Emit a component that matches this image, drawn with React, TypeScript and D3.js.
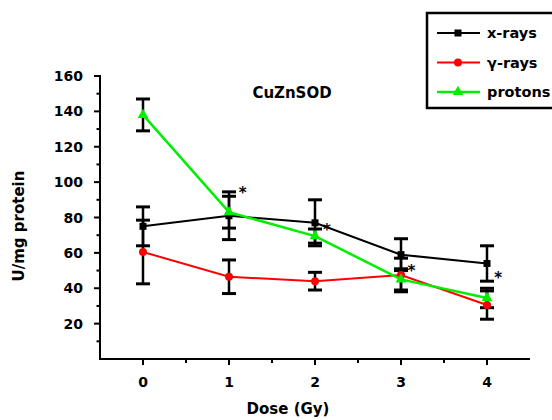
import React from 'react';
import * as d3 from 'd3';

const doses = [0, 1, 2, 3, 4];
const xRays = [75, 81, 77, 59, 54];
const xRaysErr = [11, 13.5, 13, 9, 10];
const gammaRays = [60.5, 46.5, 44, 47.5, 30.5];
const gammaErr = [18, 9.5, 5, 9.5, 8];
const protons = [138, 83, 69.5, 45, 34.5];
const protonsErr = [9, 9, 4, 6, 5.5];
const yTicks = [20, 40, 60, 80, 100, 120, 140, 160];
const yMinor = [10, 30, 50, 70, 90, 110, 130, 150];
const xMinor = [0.5, 1.5, 2.5, 3.5];
// significance marks next to the x-ray points
const starX = [1.16, 2.14, 3.12, 4.13];
const starY = [95.5, 74.5, 51.5, 47.5];

const FONT = '"DejaVu Sans", sans-serif';

const W = 552;
const H = 420;

const x = d3.scaleLinear().domain([-0.5, 4.5]).range([100, 530]);
const y = d3.scaleLinear().domain([0, 160]).range([359, 76]);

type Series = {
  name: string;
  values: number[];
  errs: number[];
  color: string;
  marker: 'square' | 'circle' | 'triangle';
  width: number;
};

const series: Series[] = [
  { name: 'x-rays', values: xRays, errs: xRaysErr, color: '#000000', marker: 'square', width: 2 },
  { name: 'γ-rays', values: gammaRays, errs: gammaErr, color: '#ff0000', marker: 'circle', width: 2 },
  { name: 'protons', values: protons, errs: protonsErr, color: '#00ee00', marker: 'triangle', width: 2.5 },
];

const Marker = ({ kind, cx, cy, color }: { kind: string; cx: number; cy: number; color: string }) => {
  if (kind === 'square') return <rect x={cx - 3.5} y={cy - 3.5} width={7} height={7} fill={color} />;
  if (kind === 'circle') return <circle cx={cx} cy={cy} r={4} fill={color} />;
  const tri = d3.symbol(d3.symbolTriangle, 50)();
  return <path d={tri || ''} transform={`translate(${cx},${cy})`} fill={color} />;
};

export default function App() {
  const line = (vals: number[]) =>
    d3.line<number>().x((_, i) => x(doses[i])).y(v => y(v))(vals) || '';

  return (
    <div style={{ position: 'absolute', left: 0, top: 0 }}>
      <svg width={W} height={H} viewBox={`0 0 ${W} ${H}`} style={{ display: 'block', background: '#fff' }}>
        {/* axes */}
        <line x1={x(-0.5)} x2={x(-0.5)} y1={y(160) - 1} y2={y(0) + 1} stroke="#000" strokeWidth={2} />
        <line x1={x(-0.5) - 1} x2={x(4.5)} y1={y(0)} y2={y(0)} stroke="#000" strokeWidth={2} />

        {yTicks.map(t => (
          <g key={'yt' + t}>
            <line x1={x(-0.5) - 6} x2={x(-0.5)} y1={y(t)} y2={y(t)} stroke="#000" strokeWidth={2} />
            <text x={83} y={y(t)} dy="0.36em" textAnchor="end" fontFamily={FONT} fontWeight="bold" fontSize={14}>{t}</text>
          </g>
        ))}
        {yMinor.map(t => (
          <line key={'ym' + t} x1={x(-0.5) - 3.5} x2={x(-0.5)} y1={y(t)} y2={y(t)} stroke="#000" strokeWidth={2} />
        ))}
        {doses.map(d => (
          <g key={'xt' + d}>
            <line x1={x(d)} x2={x(d)} y1={y(0)} y2={y(0) + 6} stroke="#000" strokeWidth={2} />
            <text x={x(d)} y={387} textAnchor="middle" fontFamily={FONT} fontWeight="bold" fontSize={14}>{d}</text>
          </g>
        ))}
        {xMinor.map(d => (
          <line key={'xm' + d} x1={x(d)} x2={x(d)} y1={y(0)} y2={y(0) + 4} stroke="#000" strokeWidth={2} />
        ))}

        <text x={288} y={414} textAnchor="middle" fontFamily={FONT} fontWeight="bold" fontSize={15}>Dose (Gy)</text>
        <text transform="translate(24,226) rotate(-90)" textAnchor="middle" fontFamily={FONT} fontWeight="bold" fontSize={15}>U/mg protein</text>
        <text x={292} y={98} textAnchor="middle" fontFamily={FONT} fontWeight="bold" fontSize={15}>CuZnSOD</text>

        {/* error bars */}
        {series.map(s =>
          s.values.map((v, i) => (
            <g key={s.name + 'e' + i} stroke="#000" strokeWidth={2.5}>
              <line x1={x(doses[i])} x2={x(doses[i])} y1={y(v + s.errs[i])} y2={y(v - s.errs[i])} />
              <line x1={x(doses[i]) - 7} x2={x(doses[i]) + 7} y1={y(v + s.errs[i])} y2={y(v + s.errs[i])} strokeWidth={3} />
              <line x1={x(doses[i]) - 7} x2={x(doses[i]) + 7} y1={y(v - s.errs[i])} y2={y(v - s.errs[i])} strokeWidth={3} />
            </g>
          ))
        )}

        {/* lines and markers */}
        {series.map(s => (
          <g key={s.name}>
            <path d={line(s.values)} fill="none" stroke={s.color} strokeWidth={s.width} />
            {s.values.map((v, i) => (
              <Marker key={i} kind={s.marker} cx={x(doses[i])} cy={y(v)} color={s.color} />
            ))}
          </g>
        ))}

        {starX.map((sx, i) => (
          <text key={'st' + i} x={x(sx)} y={y(starY[i]) + 8} textAnchor="middle" fontFamily={FONT} fontWeight="bold" fontSize={15}>*</text>
        ))}

        {/* legend */}
        <rect x={427} y={13} width={140} height={95} fill="#fff" stroke="#000" strokeWidth={2.5} />
        {series.map((s, i) => {
          const ly = 33 + i * 29.5;
          return (
            <g key={'lg' + s.name}>
              <line x1={437} x2={480} y1={ly} y2={ly} stroke={s.color} strokeWidth={s.width} />
              <Marker kind={s.marker} cx={458} cy={ly} color={s.color} />
              <text x={487} y={ly} dy="0.36em" fontFamily={FONT} fontWeight="bold" fontSize={14.5}>{s.name}</text>
            </g>
          );
        })}
      </svg>
    </div>
  );
}
